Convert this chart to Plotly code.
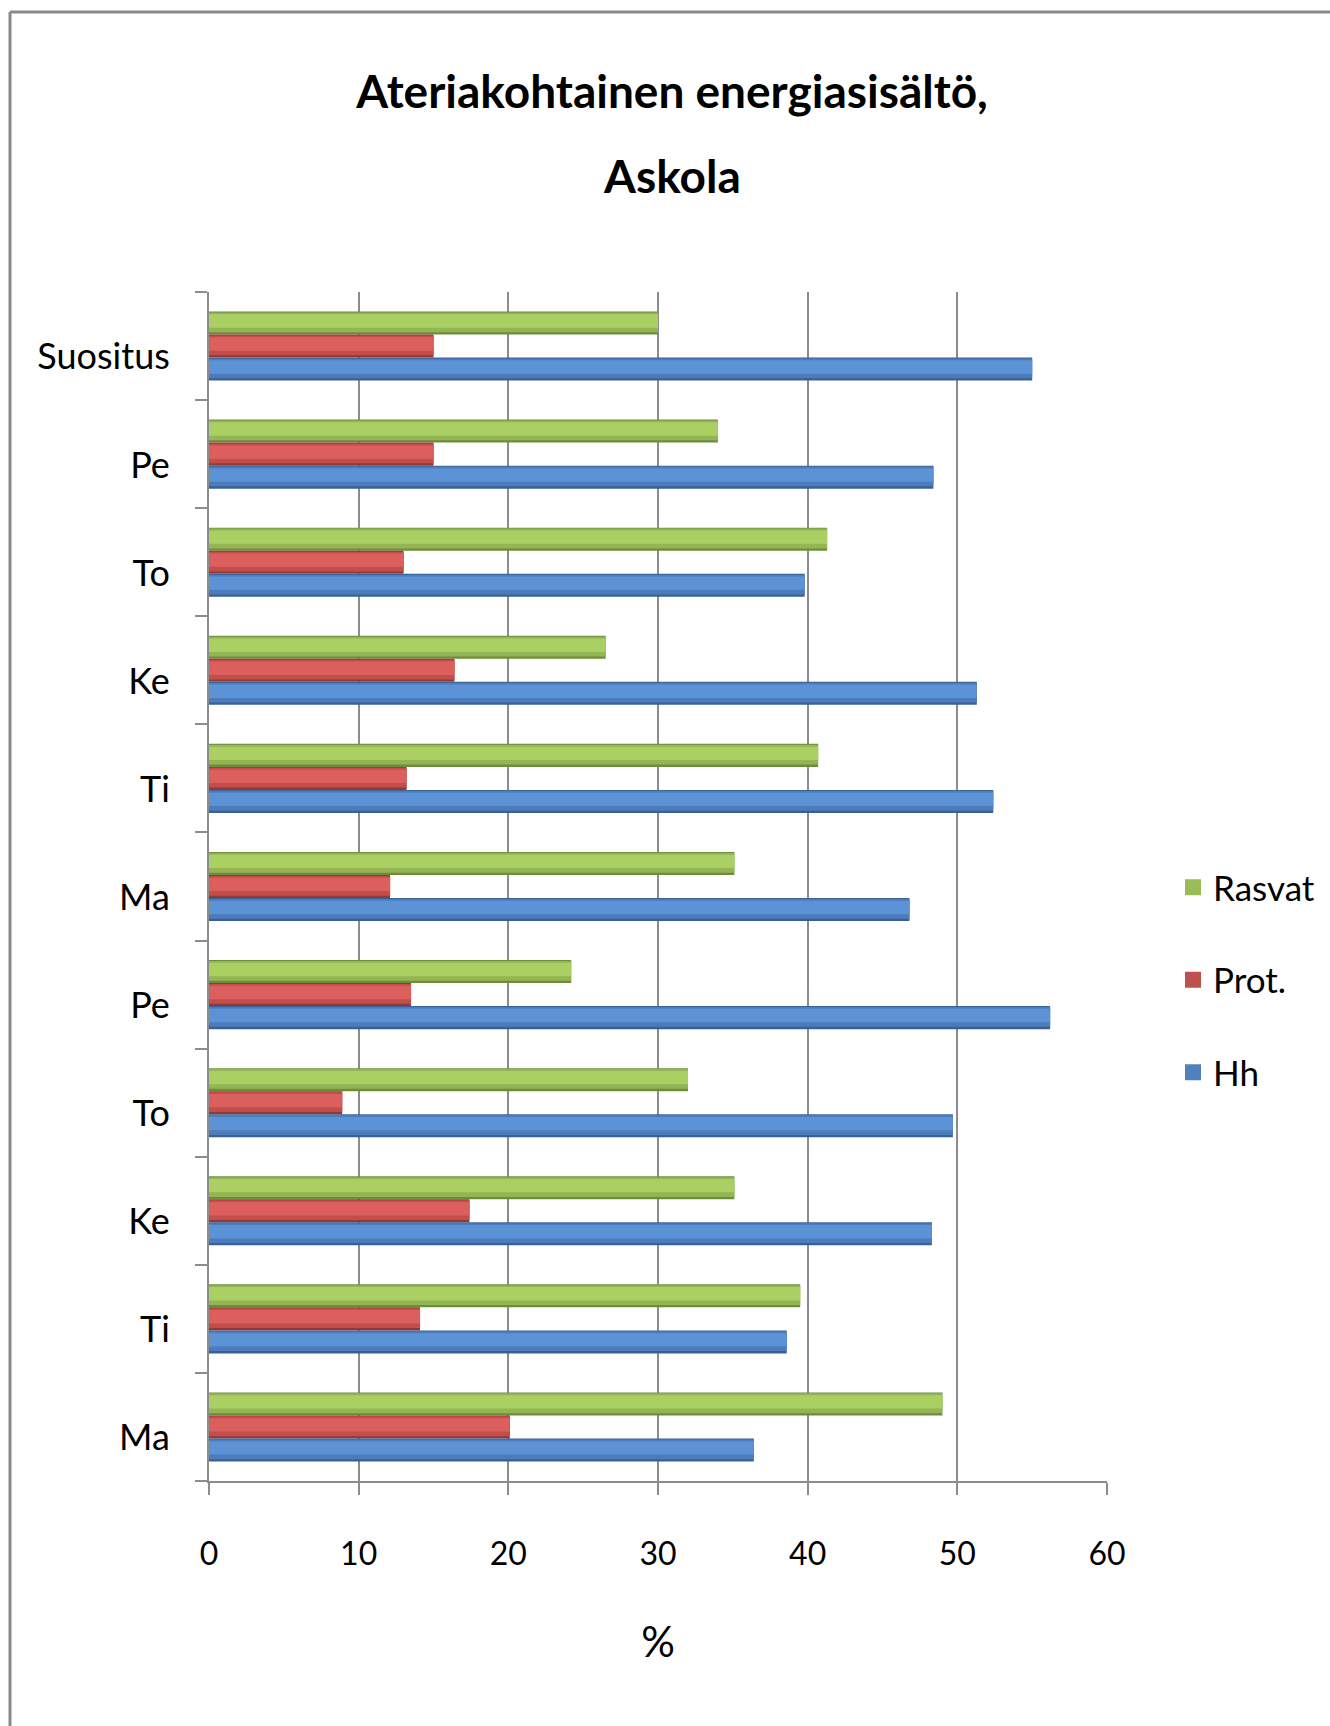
import plotly.graph_objects as go

# Data (top to bottom as shown in the chart)
categories = ["Suositus", "Pe", "To", "Ke", "Ti", "Ma", "Pe", "To", "Ke", "Ti", "Ma"]
rasvat = [30.0, 34.0, 41.3, 26.5, 40.7, 35.1, 24.2, 32.0, 35.1, 39.5, 49.0]
prot = [15.0, 15.0, 13.0, 16.4, 13.2, 12.1, 13.5, 8.9, 17.4, 14.1, 20.1]
hh = [55.0, 48.4, 39.8, 51.3, 52.4, 46.8, 56.2, 49.7, 48.3, 38.6, 36.4]
series_names = ["Rasvat", "Prot.", "Hh"]
x_ticks = [0, 10, 20, 30, 40, 50, 60]

positions = list(range(len(categories)))

W, H = 1330, 1726
ML, MR, MT, MB = 209, 223, 292, 245
PW, PH = W - ML - MR, H - MT - MB

FONT = "Lato, Roboto, sans-serif"

brights = ["#AAD064", "#DB5F5D", "#5C92D6"]
mids = ["#93B553", "#C24E4C", "#4C7CBB"]
darks = ["#6F8C3C", "#933836", "#3A6195"]
legend_cols = ["#9BBB59", "#C0504D", "#4F81BD"]

BAR_W = 0.213
offsets = [-1.5 * BAR_W, -0.5 * BAR_W, 0.5 * BAR_W]
# shading layers of each cylinder-like bar: (start fraction, width fraction)
layers = [(0.0, 1.0), (0.04, 0.86), (0.12, 0.58)]

fig = go.Figure()
for name, vals, bc, mc, dc, lc, off in zip(series_names, [rasvat, prot, hh], brights, mids, darks, legend_cols, offsets):
    for (start, frac), col in zip(layers, [dc, mc, bc]):
        fig.add_trace(go.Bar(
            x=vals, y=positions, orientation="h", name=name,
            width=BAR_W * frac, offset=off + BAR_W * start,
            marker=dict(color=col, line=dict(width=0)),
            showlegend=False, hoverinfo="skip" if col != bc else None,
        ))
    fig.add_trace(go.Scatter(
        x=[None], y=[None], mode="markers", name=name,
        marker=dict(symbol="square", size=16, color=lc),
        showlegend=True, legendgroup=name,
    ))

def px_to_paper_x(px):
    return (px - ML) / PW

def px_to_paper_y(py):
    return 1 - (py - MT) / PH

shapes = [
    dict(type="line", xref="paper", yref="paper",
         x0=px_to_paper_x(10), x1=px_to_paper_x(W + 5),
         y0=px_to_paper_y(12), y1=px_to_paper_y(12),
         line=dict(color="#8A8A8A", width=3)),
    dict(type="line", xref="paper", yref="paper",
         x0=px_to_paper_x(10), x1=px_to_paper_x(10),
         y0=px_to_paper_y(12), y1=px_to_paper_y(H + 5),
         line=dict(color="#8A8A8A", width=3)),
]

fig.update_layout(
    width=W, height=H,
    margin=dict(l=ML, r=MR, t=MT, b=MB, autoexpand=False),
    paper_bgcolor="white", plot_bgcolor="white",
    barmode="overlay",
    font=dict(family=FONT, color="black", size=32),
    title=dict(
        text="<b>Ateriakohtainen energiasisältö,</b>",
        x=672 / W, xanchor="center", xref="container",
        y=1 - 92 / H, yanchor="middle", yref="container",
        font=dict(family=FONT, size=46, color="black"),
    ),
    annotations=[dict(
        text="<b>Askola</b>", showarrow=False,
        xref="paper", yref="paper",
        x=px_to_paper_x(672), y=px_to_paper_y(176),
        xanchor="center", yanchor="middle",
        font=dict(family=FONT, size=46, color="black"),
    )],
    legend=dict(
        x=px_to_paper_x(1173), xanchor="left",
        y=px_to_paper_y(858), yanchor="top",
        font=dict(family=FONT, size=35, color="black"),
        tracegroupgap=44, itemwidth=30,
        bgcolor="rgba(0,0,0,0)",
    ),
    shapes=shapes,
)

fig.update_xaxes(
    range=[0, 60], tickvals=x_ticks, ticktext=[str(v) for v in x_ticks],
    showgrid=True, gridcolor="#8C8C8C", gridwidth=2,
    showline=True, linecolor="#8C8C8C", linewidth=2,
    ticks="outside", ticklen=12, tickcolor="#8C8C8C", tickwidth=2,
    ticklabelstandoff=32,
    tickfont=dict(family=FONT, size=32, color="black"),
    zeroline=False,
    title=dict(text="%", font=dict(family=FONT, size=42, color="black"), standoff=56),
)

fig.update_yaxes(
    range=[len(categories) - 0.5, -0.5],
    tickvals=[p + 0.1 for p in positions], ticktext=categories,
    showgrid=False, zeroline=False,
    showline=True, linecolor="#8C8C8C", linewidth=2,
    ticks="", ticklabelstandoff=30,
    tickfont=dict(family=FONT, size=36, color="black"),
    minor=dict(tickvals=[p - 0.5 for p in positions] + [len(categories) - 0.5],
               ticks="outside", ticklen=12, tickcolor="#8C8C8C", tickwidth=2,
               showgrid=False),
)

fig.write_html("out.html")
